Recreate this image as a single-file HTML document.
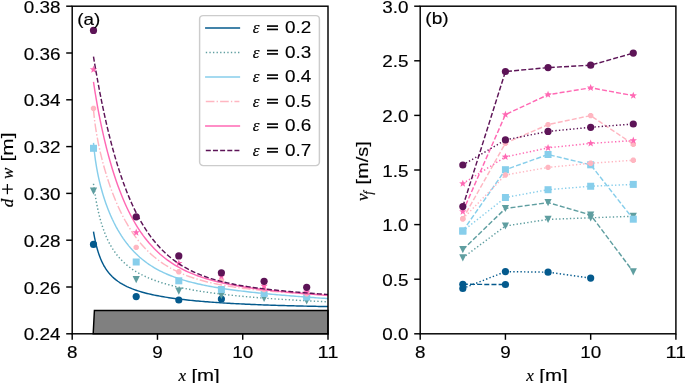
<!DOCTYPE html>
<html><head><meta charset="utf-8"><style>
html,body{margin:0;padding:0;background:#fff;overflow:hidden;}
#w{will-change:transform;width:685px;height:383px;background:#fff;}
svg{display:block;}
</style></head><body><div id="w">
<svg width="685" height="383" viewBox="0 0 685 383">
<rect width="685" height="383" fill="#fff"/>
<path d="M93.2,333.8L94.4,310.4L328.0,310.4L328.0,333.8Z" fill="#808080" stroke="#000" stroke-width="1.45"/>
<path d="M93.50,231.69L93.78,233.33L94.06,234.89L94.34,236.39L94.62,237.83L94.90,239.20L95.18,240.53L95.46,241.80L95.74,243.03L96.02,244.21L96.30,245.35L96.58,246.44L96.86,247.50L97.14,248.52L97.42,249.50L97.69,250.46L97.97,251.38L98.25,252.27L98.53,253.13L98.81,253.97L99.09,254.78L99.37,255.57L99.65,256.33L99.93,257.07L100.21,257.79L100.49,258.48L100.77,259.16L101.05,259.82L101.33,260.46L101.61,261.09L101.89,261.70L102.17,262.29L102.45,262.86L102.73,263.42L103.01,263.97L103.29,264.51L103.57,265.03L103.85,265.54L104.13,266.03L104.41,266.52L104.69,266.99L104.97,267.45L105.25,267.90L105.53,268.34L105.81,268.78L106.08,269.20L106.36,269.61L106.64,270.02L106.92,270.41L107.20,270.80L107.48,271.18L107.76,271.55L108.04,271.92L108.32,272.27L108.60,272.62L108.88,272.97L109.16,273.30L109.44,273.63L109.72,273.96L110.00,274.28L110.50,274.83L112.33,276.71L114.16,278.39L115.98,279.90L117.81,281.27L119.64,282.52L121.47,283.66L123.29,284.71L125.12,285.68L126.95,286.58L128.78,287.42L130.61,288.20L132.43,288.93L134.26,289.61L136.09,290.25L137.92,290.86L139.74,291.43L141.57,291.98L143.40,292.49L145.23,292.98L147.05,293.44L148.88,293.89L150.71,294.31L152.54,294.71L154.37,295.10L156.19,295.47L158.02,295.82L159.85,296.16L161.68,296.49L163.50,296.80L165.33,297.10L167.16,297.39L168.99,297.67L170.82,297.94L172.64,298.20L174.47,298.45L176.30,298.70L178.13,298.93L179.95,299.16L181.78,299.38L183.61,299.59L185.44,299.80L187.26,300.00L189.09,300.19L190.92,300.38L192.75,300.56L194.58,300.74L196.40,300.91L198.23,301.08L200.06,301.24L201.89,301.39L203.71,301.55L205.54,301.70L207.37,301.84L209.20,301.98L211.03,302.12L212.85,302.25L214.68,302.38L216.51,302.51L218.34,302.63L220.16,302.75L221.99,302.87L223.82,302.99L225.65,303.10L227.47,303.21L229.30,303.31L231.13,303.42L232.96,303.52L234.79,303.62L236.61,303.71L238.44,303.81L240.27,303.90L242.10,303.99L243.92,304.08L245.75,304.16L247.58,304.24L249.41,304.33L251.24,304.41L253.06,304.48L254.89,304.56L256.72,304.63L258.55,304.71L260.37,304.78L262.20,304.85L264.03,304.92L265.86,304.98L267.68,305.05L269.51,305.11L271.34,305.17L273.17,305.24L275.00,305.30L276.82,305.35L278.65,305.41L280.48,305.47L282.31,305.52L284.13,305.58L285.96,305.63L287.79,305.68L289.62,305.73L291.45,305.78L293.27,305.83L295.10,305.88L296.93,305.92L298.76,305.97L300.58,306.01L302.41,306.06L304.24,306.10L306.07,306.14L307.89,306.18L309.72,306.23L311.55,306.27L313.38,306.30L315.21,306.34L317.03,306.38L318.86,306.42L320.69,306.45L322.52,306.49L324.34,306.52L326.17,306.56L328.00,306.59" fill="none" stroke="#045a8d" stroke-width="1.45" stroke-linejoin="round" stroke-linecap="butt"/>
<circle cx="93.50" cy="244.40" r="3.6" fill="#045a8d"/>
<circle cx="136.20" cy="296.60" r="3.6" fill="#045a8d"/>
<circle cx="178.80" cy="300.00" r="3.6" fill="#045a8d"/>
<circle cx="221.40" cy="299.00" r="3.6" fill="#045a8d"/>
<path d="M93.50,183.76L93.78,185.84L94.06,187.84L94.34,189.77L94.62,191.64L94.90,193.44L95.18,195.18L95.46,196.87L95.74,198.51L96.02,200.09L96.30,201.62L96.58,203.11L96.86,204.56L97.14,205.96L97.42,207.32L97.69,208.64L97.97,209.93L98.25,211.18L98.53,212.40L98.81,213.58L99.09,214.74L99.37,215.86L99.65,216.96L99.93,218.03L100.21,219.07L100.49,220.09L100.77,221.08L101.05,222.05L101.33,223.00L101.61,223.93L101.89,224.83L102.17,225.71L102.45,226.58L102.73,227.42L103.01,228.25L103.29,229.06L103.57,229.85L103.85,230.63L104.13,231.39L104.41,232.13L104.69,232.86L104.97,233.58L105.25,234.28L105.53,234.96L105.81,235.64L106.08,236.30L106.36,236.95L106.64,237.59L106.92,238.21L107.20,238.82L107.48,239.43L107.76,240.02L108.04,240.60L108.32,241.17L108.60,241.73L108.88,242.28L109.16,242.82L109.44,243.36L109.72,243.88L110.00,244.40L110.50,245.30L112.33,248.38L114.16,251.17L115.98,253.70L117.81,256.02L119.64,258.15L121.47,260.11L123.29,261.92L125.12,263.60L126.95,265.17L128.78,266.63L130.61,268.00L132.43,269.29L134.26,270.49L136.09,271.63L137.92,272.71L139.74,273.72L141.57,274.69L143.40,275.60L145.23,276.47L147.05,277.29L148.88,278.08L150.71,278.83L152.54,279.55L154.37,280.24L156.19,280.90L158.02,281.53L159.85,282.13L161.68,282.71L163.50,283.27L165.33,283.81L167.16,284.33L168.99,284.82L170.82,285.30L172.64,285.77L174.47,286.22L176.30,286.65L178.13,287.07L179.95,287.48L181.78,287.87L183.61,288.25L185.44,288.62L187.26,288.97L189.09,289.32L190.92,289.66L192.75,289.99L194.58,290.30L196.40,290.61L198.23,290.91L200.06,291.21L201.89,291.49L203.71,291.77L205.54,292.04L207.37,292.30L209.20,292.56L211.03,292.81L212.85,293.06L214.68,293.30L216.51,293.53L218.34,293.76L220.16,293.98L221.99,294.20L223.82,294.41L225.65,294.62L227.47,294.82L229.30,295.02L231.13,295.21L232.96,295.40L234.79,295.59L236.61,295.77L238.44,295.95L240.27,296.13L242.10,296.30L243.92,296.47L245.75,296.63L247.58,296.80L249.41,296.96L251.24,297.11L253.06,297.27L254.89,297.42L256.72,297.56L258.55,297.71L260.37,297.85L262.20,297.99L264.03,298.13L265.86,298.26L267.68,298.40L269.51,298.53L271.34,298.65L273.17,298.78L275.00,298.90L276.82,299.03L278.65,299.15L280.48,299.26L282.31,299.38L284.13,299.49L285.96,299.61L287.79,299.72L289.62,299.83L291.45,299.93L293.27,300.04L295.10,300.14L296.93,300.25L298.76,300.35L300.58,300.45L302.41,300.55L304.24,300.64L306.07,300.74L307.89,300.83L309.72,300.93L311.55,301.02L313.38,301.11L315.21,301.20L317.03,301.28L318.86,301.37L320.69,301.46L322.52,301.54L324.34,301.62L326.17,301.71L328.00,301.79" fill="none" stroke="#5f9ea0" stroke-width="1.45" stroke-dasharray="1.35,2.23" stroke-linejoin="round" stroke-linecap="butt"/>
<path d="M89.90,187.60L97.10,187.60L93.50,194.80Z" fill="#5f9ea0"/>
<path d="M132.60,276.00L139.80,276.00L136.20,283.20Z" fill="#5f9ea0"/>
<path d="M175.20,287.60L182.40,287.60L178.80,294.80Z" fill="#5f9ea0"/>
<path d="M217.80,291.90L225.00,291.90L221.40,299.10Z" fill="#5f9ea0"/>
<path d="M260.50,294.90L267.70,294.90L264.10,302.10Z" fill="#5f9ea0"/>
<path d="M303.10,297.40L310.30,297.40L306.70,304.60Z" fill="#5f9ea0"/>
<path d="M93.50,142.86L93.78,146.05L94.06,148.93L94.34,151.54L94.62,153.96L94.90,156.21L95.18,158.31L95.46,160.30L95.74,162.18L96.02,163.98L96.30,165.69L96.58,167.33L96.86,168.91L97.14,170.44L97.42,171.91L97.69,173.33L97.97,174.71L98.25,176.05L98.53,177.35L98.81,178.62L99.09,179.86L99.37,181.06L99.65,182.24L99.93,183.39L100.21,184.52L100.49,185.62L100.77,186.70L101.05,187.76L101.33,188.79L101.61,189.81L101.89,190.81L102.17,191.79L102.45,192.76L102.73,193.70L103.01,194.64L103.29,195.55L103.57,196.45L103.85,197.34L104.13,198.22L104.41,199.08L104.69,199.93L104.97,200.76L105.25,201.59L105.53,202.40L105.81,203.20L106.08,203.99L106.36,204.77L106.64,205.54L106.92,206.29L107.20,207.04L107.48,207.78L107.76,208.51L108.04,209.23L108.32,209.94L108.60,210.64L108.88,211.34L109.16,212.02L109.44,212.70L109.72,213.37L110.00,214.03L110.50,215.20L112.33,219.25L114.16,223.03L115.98,226.55L117.81,229.85L119.64,232.94L121.47,235.85L123.29,238.58L125.12,241.15L126.95,243.57L128.78,245.86L130.61,248.02L132.43,250.07L134.26,252.00L136.09,253.83L137.92,255.57L139.74,257.22L141.57,258.78L143.40,260.26L145.23,261.68L147.05,263.02L148.88,264.29L150.71,265.51L152.54,266.67L154.37,267.77L156.19,268.82L158.02,269.83L159.85,270.79L161.68,271.70L163.50,272.58L165.33,273.42L167.16,274.22L168.99,274.99L170.82,275.73L172.64,276.44L174.47,277.11L176.30,277.76L178.13,278.39L179.95,278.99L181.78,279.57L183.61,280.13L185.44,280.66L187.26,281.18L189.09,281.68L190.92,282.16L192.75,282.62L194.58,283.07L196.40,283.51L198.23,283.93L200.06,284.33L201.89,284.73L203.71,285.11L205.54,285.48L207.37,285.84L209.20,286.18L211.03,286.52L212.85,286.85L214.68,287.17L216.51,287.48L218.34,287.78L220.16,288.08L221.99,288.37L223.82,288.65L225.65,288.92L227.47,289.19L229.30,289.45L231.13,289.70L232.96,289.95L234.79,290.20L236.61,290.44L238.44,290.67L240.27,290.90L242.10,291.12L243.92,291.34L245.75,291.56L247.58,291.77L249.41,291.98L251.24,292.18L253.06,292.38L254.89,292.58L256.72,292.77L258.55,292.96L260.37,293.15L262.20,293.33L264.03,293.51L265.86,293.69L267.68,293.87L269.51,294.04L271.34,294.21L273.17,294.38L275.00,294.54L276.82,294.71L278.65,294.87L280.48,295.03L282.31,295.18L284.13,295.34L285.96,295.49L287.79,295.64L289.62,295.79L291.45,295.94L293.27,296.09L295.10,296.23L296.93,296.37L298.76,296.51L300.58,296.65L302.41,296.79L304.24,296.93L306.07,297.06L307.89,297.20L309.72,297.33L311.55,297.46L313.38,297.59L315.21,297.72L317.03,297.85L318.86,297.97L320.69,298.10L322.52,298.22L324.34,298.34L326.17,298.46L328.00,298.58" fill="none" stroke="#87ceeb" stroke-width="1.45" stroke-linejoin="round" stroke-linecap="butt"/>
<rect x="90.00" y="144.80" width="7.00" height="7.00" fill="#87ceeb"/>
<rect x="132.70" y="258.50" width="7.00" height="7.00" fill="#87ceeb"/>
<rect x="175.30" y="277.30" width="7.00" height="7.00" fill="#87ceeb"/>
<rect x="217.90" y="286.00" width="7.00" height="7.00" fill="#87ceeb"/>
<rect x="260.60" y="290.00" width="7.00" height="7.00" fill="#87ceeb"/>
<rect x="303.20" y="293.50" width="7.00" height="7.00" fill="#87ceeb"/>
<path d="M93.50,109.28L93.78,112.59L94.06,115.48L94.34,118.09L94.62,120.47L94.90,122.69L95.18,124.77L95.46,126.74L95.74,128.61L96.02,130.40L96.30,132.12L96.58,133.78L96.86,135.39L97.14,136.95L97.42,138.46L97.69,139.94L97.97,141.37L98.25,142.78L98.53,144.15L98.81,145.49L99.09,146.81L99.37,148.10L99.65,149.37L99.93,150.61L100.21,151.84L100.49,153.04L100.77,154.23L101.05,155.39L101.33,156.54L101.61,157.67L101.89,158.79L102.17,159.89L102.45,160.98L102.73,162.05L103.01,163.10L103.29,164.15L103.57,165.18L103.85,166.20L104.13,167.20L104.41,168.20L104.69,169.18L104.97,170.15L105.25,171.11L105.53,172.06L105.81,173.00L106.08,173.93L106.36,174.85L106.64,175.75L106.92,176.65L107.20,177.54L107.48,178.43L107.76,179.30L108.04,180.16L108.32,181.02L108.60,181.86L108.88,182.70L109.16,183.53L109.44,184.35L109.72,185.16L110.00,185.97L110.50,187.39L112.33,192.39L114.16,197.11L115.98,201.56L117.81,205.77L119.64,209.75L121.47,213.52L123.29,217.10L125.12,220.50L126.95,223.72L128.78,226.79L130.61,229.70L132.43,232.47L134.26,235.11L136.09,237.62L137.92,240.00L139.74,242.28L141.57,244.44L143.40,246.51L145.23,248.48L147.05,250.35L148.88,252.14L150.71,253.85L152.54,255.48L154.37,257.04L156.19,258.52L158.02,259.94L159.85,261.29L161.68,262.59L163.50,263.83L165.33,265.01L167.16,266.14L168.99,267.22L170.82,268.26L172.64,269.25L174.47,270.20L176.30,271.10L178.13,271.97L179.95,272.81L181.78,273.61L183.61,274.37L185.44,275.11L187.26,275.81L189.09,276.49L190.92,277.14L192.75,277.76L194.58,278.36L196.40,278.93L198.23,279.49L200.06,280.02L201.89,280.53L203.71,281.02L205.54,281.50L207.37,281.96L209.20,282.40L211.03,282.82L212.85,283.23L214.68,283.62L216.51,284.00L218.34,284.37L220.16,284.73L221.99,285.07L223.82,285.40L225.65,285.72L227.47,286.03L229.30,286.33L231.13,286.62L232.96,286.90L234.79,287.17L236.61,287.44L238.44,287.70L240.27,287.94L242.10,288.19L243.92,288.42L245.75,288.65L247.58,288.87L249.41,289.09L251.24,289.30L253.06,289.50L254.89,289.70L256.72,289.89L258.55,290.08L260.37,290.27L262.20,290.45L264.03,290.62L265.86,290.79L267.68,290.96L269.51,291.12L271.34,291.28L273.17,291.44L275.00,291.59L276.82,291.74L278.65,291.89L280.48,292.03L282.31,292.17L284.13,292.31L285.96,292.45L287.79,292.58L289.62,292.71L291.45,292.84L293.27,292.97L295.10,293.09L296.93,293.21L298.76,293.33L300.58,293.45L302.41,293.56L304.24,293.68L306.07,293.79L307.89,293.90L309.72,294.01L311.55,294.12L313.38,294.22L315.21,294.33L317.03,294.43L318.86,294.53L320.69,294.63L322.52,294.73L324.34,294.83L326.17,294.92L328.00,295.02" fill="none" stroke="#ffb6c1" stroke-width="1.45" stroke-dasharray="8.64,2.16,1.35,2.16" stroke-linejoin="round" stroke-linecap="butt"/>
<polygon points="96.19,109.51 94.61,111.09 92.39,111.09 90.81,109.51 90.81,107.29 92.39,105.71 94.61,105.71 96.19,107.29" fill="#ffb6c1"/>
<polygon points="138.89,248.51 137.31,250.09 135.09,250.09 133.51,248.51 133.51,246.29 135.09,244.71 137.31,244.71 138.89,246.29" fill="#ffb6c1"/>
<polygon points="181.49,272.91 179.91,274.49 177.69,274.49 176.11,272.91 176.11,270.69 177.69,269.11 179.91,269.11 181.49,270.69" fill="#ffb6c1"/>
<polygon points="224.09,281.61 222.51,283.19 220.29,283.19 218.71,281.61 218.71,279.39 220.29,277.81 222.51,277.81 224.09,279.39" fill="#ffb6c1"/>
<polygon points="266.79,290.61 265.21,292.19 262.99,292.19 261.41,290.61 261.41,288.39 262.99,286.81 265.21,286.81 266.79,288.39" fill="#ffb6c1"/>
<polygon points="309.39,294.81 307.81,296.39 305.59,296.39 304.01,294.81 304.01,292.59 305.59,291.01 307.81,291.01 309.39,292.59" fill="#ffb6c1"/>
<path d="M93.50,81.97L93.78,83.85L94.06,85.69L94.34,87.51L94.62,89.30L94.90,91.06L95.18,92.79L95.46,94.50L95.74,96.18L96.02,97.84L96.30,99.48L96.58,101.09L96.86,102.69L97.14,104.26L97.42,105.81L97.69,107.35L97.97,108.86L98.25,110.36L98.53,111.84L98.81,113.30L99.09,114.75L99.37,116.18L99.65,117.59L99.93,118.99L100.21,120.37L100.49,121.74L100.77,123.09L101.05,124.43L101.33,125.76L101.61,127.07L101.89,128.37L102.17,129.65L102.45,130.92L102.73,132.18L103.01,133.43L103.29,134.66L103.57,135.88L103.85,137.09L104.13,138.29L104.41,139.48L104.69,140.65L104.97,141.81L105.25,142.97L105.53,144.11L105.81,145.24L106.08,146.36L106.36,147.47L106.64,148.57L106.92,149.66L107.20,150.74L107.48,151.81L107.76,152.87L108.04,153.92L108.32,154.97L108.60,156.00L108.88,157.02L109.16,158.04L109.44,159.04L109.72,160.04L110.00,161.02L110.50,162.77L112.33,168.92L114.16,174.73L115.98,180.23L117.81,185.43L119.64,190.37L121.47,195.04L123.29,199.48L125.12,203.69L126.95,207.69L128.78,211.48L130.61,215.09L132.43,218.51L134.26,221.77L136.09,224.87L137.92,227.82L139.74,230.62L141.57,233.29L143.40,235.83L145.23,238.25L147.05,240.55L148.88,242.75L150.71,244.84L152.54,246.84L154.37,248.74L156.19,250.56L158.02,252.29L159.85,253.94L161.68,255.52L163.50,257.03L165.33,258.47L167.16,259.85L168.99,261.16L170.82,262.42L172.64,263.62L174.47,264.77L176.30,265.88L178.13,266.93L179.95,267.94L181.78,268.91L183.61,269.84L185.44,270.73L187.26,271.58L189.09,272.40L190.92,273.19L192.75,273.94L194.58,274.67L196.40,275.36L198.23,276.03L200.06,276.68L201.89,277.30L203.71,277.89L205.54,278.47L207.37,279.02L209.20,279.56L211.03,280.07L212.85,280.57L214.68,281.05L216.51,281.51L218.34,281.96L220.16,282.39L221.99,282.81L223.82,283.22L225.65,283.61L227.47,283.99L229.30,284.36L231.13,284.71L232.96,285.06L234.79,285.39L236.61,285.72L238.44,286.04L240.27,286.35L242.10,286.64L243.92,286.94L245.75,287.22L247.58,287.49L249.41,287.76L251.24,288.03L253.06,288.28L254.89,288.53L256.72,288.77L258.55,289.01L260.37,289.24L262.20,289.47L264.03,289.69L265.86,289.91L267.68,290.12L269.51,290.33L271.34,290.53L273.17,290.73L275.00,290.93L276.82,291.12L278.65,291.31L280.48,291.49L282.31,291.68L284.13,291.85L285.96,292.03L287.79,292.20L289.62,292.37L291.45,292.54L293.27,292.70L295.10,292.86L296.93,293.02L298.76,293.18L300.58,293.33L302.41,293.48L304.24,293.63L306.07,293.78L307.89,293.93L309.72,294.07L311.55,294.21L313.38,294.35L315.21,294.49L317.03,294.63L318.86,294.76L320.69,294.90L322.52,295.03L324.34,295.16L326.17,295.29L328.00,295.42" fill="none" stroke="#ff69b4" stroke-width="1.45" stroke-linejoin="round" stroke-linecap="butt"/>
<polygon points="93.50,65.60 94.46,68.17 97.21,68.29 95.06,70.01 95.79,72.66 93.50,71.14 91.21,72.66 91.94,70.01 89.79,68.29 92.54,68.17" fill="#ff69b4"/>
<polygon points="136.20,228.60 137.16,231.17 139.91,231.29 137.76,233.01 138.49,235.66 136.20,234.14 133.91,235.66 134.64,233.01 132.49,231.29 135.24,231.17" fill="#ff69b4"/>
<polygon points="178.80,259.40 179.76,261.97 182.51,262.09 180.36,263.81 181.09,266.46 178.80,264.94 176.51,266.46 177.24,263.81 175.09,262.09 177.84,261.97" fill="#ff69b4"/>
<polygon points="221.40,272.40 222.36,274.97 225.11,275.09 222.96,276.81 223.69,279.46 221.40,277.94 219.11,279.46 219.84,276.81 217.69,275.09 220.44,274.97" fill="#ff69b4"/>
<polygon points="264.10,282.10 265.06,284.67 267.81,284.79 265.66,286.51 266.39,289.16 264.10,287.64 261.81,289.16 262.54,286.51 260.39,284.79 263.14,284.67" fill="#ff69b4"/>
<polygon points="306.70,288.00 307.66,290.57 310.41,290.69 308.26,292.41 308.99,295.06 306.70,293.54 304.41,295.06 305.14,292.41 302.99,290.69 305.74,290.57" fill="#ff69b4"/>
<path d="M93.50,56.62L93.78,58.33L94.06,60.02L94.34,61.71L94.62,63.37L94.90,65.03L95.18,66.68L95.46,68.31L95.74,69.93L96.02,71.54L96.30,73.13L96.58,74.71L96.86,76.29L97.14,77.85L97.42,79.40L97.69,80.93L97.97,82.46L98.25,83.97L98.53,85.48L98.81,86.97L99.09,88.45L99.37,89.92L99.65,91.38L99.93,92.82L100.21,94.26L100.49,95.69L100.77,97.10L101.05,98.51L101.33,99.90L101.61,101.29L101.89,102.66L102.17,104.02L102.45,105.38L102.73,106.72L103.01,108.05L103.29,109.38L103.57,110.69L103.85,112.00L104.13,113.29L104.41,114.58L104.69,115.85L104.97,117.12L105.25,118.37L105.53,119.62L105.81,120.86L106.08,122.08L106.36,123.30L106.64,124.51L106.92,125.72L107.20,126.91L107.48,128.09L107.76,129.27L108.04,130.43L108.32,131.59L108.60,132.74L108.88,133.88L109.16,135.01L109.44,136.13L109.72,137.25L110.00,138.35L110.50,140.31L112.33,147.25L114.16,153.86L115.98,160.16L117.81,166.15L119.64,171.87L121.47,177.31L123.29,182.50L125.12,187.44L126.95,192.15L128.78,196.63L130.61,200.91L132.43,204.98L134.26,208.86L136.09,212.56L137.92,216.09L139.74,219.45L141.57,222.66L143.40,225.72L145.23,228.63L147.05,231.41L148.88,234.06L150.71,236.59L152.54,239.00L154.37,241.30L156.19,243.49L158.02,245.58L159.85,247.58L161.68,249.49L163.50,251.31L165.33,253.05L167.16,254.70L168.99,256.29L170.82,257.80L172.64,259.25L174.47,260.63L176.30,261.95L178.13,263.21L179.95,264.41L181.78,265.57L183.61,266.67L185.44,267.72L187.26,268.73L189.09,269.70L190.92,270.62L192.75,271.51L194.58,272.35L196.40,273.17L198.23,273.94L200.06,274.69L201.89,275.40L203.71,276.09L205.54,276.75L207.37,277.38L209.20,277.99L211.03,278.57L212.85,279.13L214.68,279.67L216.51,280.18L218.34,280.68L220.16,281.16L221.99,281.62L223.82,282.06L225.65,282.49L227.47,282.90L229.30,283.30L231.13,283.69L232.96,284.06L234.79,284.42L236.61,284.76L238.44,285.10L240.27,285.42L242.10,285.73L243.92,286.04L245.75,286.33L247.58,286.62L249.41,286.89L251.24,287.16L253.06,287.42L254.89,287.68L256.72,287.92L258.55,288.16L260.37,288.40L262.20,288.63L264.03,288.85L265.86,289.07L267.68,289.28L269.51,289.48L271.34,289.69L273.17,289.88L275.00,290.08L276.82,290.27L278.65,290.45L280.48,290.63L282.31,290.81L284.13,290.99L285.96,291.16L287.79,291.33L289.62,291.49L291.45,291.66L293.27,291.82L295.10,291.97L296.93,292.13L298.76,292.28L300.58,292.44L302.41,292.58L304.24,292.73L306.07,292.88L307.89,293.02L309.72,293.16L311.55,293.30L313.38,293.44L315.21,293.58L317.03,293.72L318.86,293.85L320.69,293.99L322.52,294.12L324.34,294.25L326.17,294.38L328.00,294.51" fill="none" stroke="#5d1457" stroke-width="1.45" stroke-dasharray="5.00,2.16" stroke-linejoin="round" stroke-linecap="butt"/>
<circle cx="93.50" cy="30.40" r="3.6" fill="#5d1457"/>
<circle cx="136.20" cy="216.80" r="3.6" fill="#5d1457"/>
<circle cx="178.80" cy="255.90" r="3.6" fill="#5d1457"/>
<circle cx="221.40" cy="272.80" r="3.6" fill="#5d1457"/>
<circle cx="264.10" cy="281.30" r="3.6" fill="#5d1457"/>
<circle cx="306.70" cy="287.30" r="3.6" fill="#5d1457"/>
<path d="M462.82,284.30L505.43,284.50" fill="none" stroke="#045a8d" stroke-width="1.45" stroke-dasharray="5.00,2.16" stroke-linejoin="round" stroke-linecap="butt"/>
<circle cx="462.82" cy="284.30" r="3.6" fill="#045a8d"/>
<circle cx="505.43" cy="284.50" r="3.6" fill="#045a8d"/>
<path d="M462.82,288.50L505.43,271.60L548.05,272.20L590.67,278.10" fill="none" stroke="#045a8d" stroke-width="1.45" stroke-dasharray="1.35,2.23" stroke-linejoin="round" stroke-linecap="butt"/>
<circle cx="462.82" cy="288.50" r="3.6" fill="#045a8d"/>
<circle cx="505.43" cy="271.60" r="3.6" fill="#045a8d"/>
<circle cx="548.05" cy="272.20" r="3.6" fill="#045a8d"/>
<circle cx="590.67" cy="278.10" r="3.6" fill="#045a8d"/>
<path d="M462.82,249.70L505.43,208.50L548.05,202.60L590.67,215.00L633.28,271.80" fill="none" stroke="#5f9ea0" stroke-width="1.45" stroke-dasharray="5.00,2.16" stroke-linejoin="round" stroke-linecap="butt"/>
<path d="M459.22,246.10L466.42,246.10L462.82,253.30Z" fill="#5f9ea0"/>
<path d="M501.83,204.90L509.03,204.90L505.43,212.10Z" fill="#5f9ea0"/>
<path d="M544.45,199.00L551.65,199.00L548.05,206.20Z" fill="#5f9ea0"/>
<path d="M587.07,211.40L594.27,211.40L590.67,218.60Z" fill="#5f9ea0"/>
<path d="M629.68,268.20L636.88,268.20L633.28,275.40Z" fill="#5f9ea0"/>
<path d="M462.82,257.80L505.43,226.00L548.05,219.40L590.67,217.80L633.28,216.30" fill="none" stroke="#5f9ea0" stroke-width="1.45" stroke-dasharray="1.35,2.23" stroke-linejoin="round" stroke-linecap="butt"/>
<path d="M459.22,254.20L466.42,254.20L462.82,261.40Z" fill="#5f9ea0"/>
<path d="M501.83,222.40L509.03,222.40L505.43,229.60Z" fill="#5f9ea0"/>
<path d="M544.45,215.80L551.65,215.80L548.05,223.00Z" fill="#5f9ea0"/>
<path d="M587.07,214.20L594.27,214.20L590.67,221.40Z" fill="#5f9ea0"/>
<path d="M629.68,212.70L636.88,212.70L633.28,219.90Z" fill="#5f9ea0"/>
<path d="M462.82,231.00L505.43,169.70L548.05,154.50L590.67,164.80L633.28,219.20" fill="none" stroke="#87ceeb" stroke-width="1.45" stroke-dasharray="5.00,2.16" stroke-linejoin="round" stroke-linecap="butt"/>
<rect x="459.32" y="227.50" width="7.00" height="7.00" fill="#87ceeb"/>
<rect x="501.93" y="166.20" width="7.00" height="7.00" fill="#87ceeb"/>
<rect x="544.55" y="151.00" width="7.00" height="7.00" fill="#87ceeb"/>
<rect x="587.17" y="161.30" width="7.00" height="7.00" fill="#87ceeb"/>
<rect x="629.78" y="215.70" width="7.00" height="7.00" fill="#87ceeb"/>
<path d="M462.82,231.00L505.43,197.50L548.05,189.70L590.67,186.25L633.28,184.40" fill="none" stroke="#87ceeb" stroke-width="1.45" stroke-dasharray="1.35,2.23" stroke-linejoin="round" stroke-linecap="butt"/>
<rect x="459.32" y="227.50" width="7.00" height="7.00" fill="#87ceeb"/>
<rect x="501.93" y="194.00" width="7.00" height="7.00" fill="#87ceeb"/>
<rect x="544.55" y="186.20" width="7.00" height="7.00" fill="#87ceeb"/>
<rect x="587.17" y="182.75" width="7.00" height="7.00" fill="#87ceeb"/>
<rect x="629.78" y="180.90" width="7.00" height="7.00" fill="#87ceeb"/>
<path d="M462.82,218.80L505.43,143.20L548.05,124.60L590.67,115.60L633.28,144.20" fill="none" stroke="#ffb6c1" stroke-width="1.45" stroke-dasharray="5.00,2.16" stroke-linejoin="round" stroke-linecap="butt"/>
<polygon points="465.51,219.91 463.93,221.49 461.70,221.49 460.13,219.91 460.13,217.69 461.70,216.11 463.93,216.11 465.51,217.69" fill="#ffb6c1"/>
<polygon points="508.12,144.31 506.55,145.89 504.32,145.89 502.74,144.31 502.74,142.09 504.32,140.51 506.55,140.51 508.12,142.09" fill="#ffb6c1"/>
<polygon points="550.74,125.71 549.16,127.29 546.94,127.29 545.36,125.71 545.36,123.49 546.94,121.91 549.16,121.91 550.74,123.49" fill="#ffb6c1"/>
<polygon points="593.36,116.71 591.78,118.29 589.55,118.29 587.98,116.71 587.98,114.49 589.55,112.91 591.78,112.91 593.36,114.49" fill="#ffb6c1"/>
<polygon points="635.97,145.31 634.40,146.89 632.17,146.89 630.59,145.31 630.59,143.09 632.17,141.51 634.40,141.51 635.97,143.09" fill="#ffb6c1"/>
<path d="M462.82,218.80L505.43,175.00L548.05,167.40L590.67,163.30L633.28,160.20" fill="none" stroke="#ffb6c1" stroke-width="1.45" stroke-dasharray="1.35,2.23" stroke-linejoin="round" stroke-linecap="butt"/>
<polygon points="465.51,219.91 463.93,221.49 461.70,221.49 460.13,219.91 460.13,217.69 461.70,216.11 463.93,216.11 465.51,217.69" fill="#ffb6c1"/>
<polygon points="508.12,176.11 506.55,177.69 504.32,177.69 502.74,176.11 502.74,173.89 504.32,172.31 506.55,172.31 508.12,173.89" fill="#ffb6c1"/>
<polygon points="550.74,168.51 549.16,170.09 546.94,170.09 545.36,168.51 545.36,166.29 546.94,164.71 549.16,164.71 550.74,166.29" fill="#ffb6c1"/>
<polygon points="593.36,164.41 591.78,165.99 589.55,165.99 587.98,164.41 587.98,162.19 589.55,160.61 591.78,160.61 593.36,162.19" fill="#ffb6c1"/>
<polygon points="635.97,161.31 634.40,162.89 632.17,162.89 630.59,161.31 630.59,159.09 632.17,157.51 634.40,157.51 635.97,159.09" fill="#ffb6c1"/>
<path d="M462.82,211.60L505.43,114.60L548.05,94.70L590.67,87.80L633.28,95.60" fill="none" stroke="#ff69b4" stroke-width="1.45" stroke-dasharray="5.00,2.16" stroke-linejoin="round" stroke-linecap="butt"/>
<polygon points="462.82,207.70 463.78,210.27 466.53,210.39 464.37,212.11 465.11,214.76 462.82,213.24 460.52,214.76 461.26,212.11 459.11,210.39 461.85,210.27" fill="#ff69b4"/>
<polygon points="505.43,110.70 506.40,113.27 509.14,113.39 506.99,115.11 507.73,117.76 505.43,116.24 503.14,117.76 503.88,115.11 501.72,113.39 504.47,113.27" fill="#ff69b4"/>
<polygon points="548.05,90.80 549.01,93.37 551.76,93.49 549.61,95.21 550.34,97.86 548.05,96.34 545.76,97.86 546.49,95.21 544.34,93.49 547.09,93.37" fill="#ff69b4"/>
<polygon points="590.67,83.90 591.63,86.47 594.38,86.59 592.22,88.31 592.96,90.96 590.67,89.44 588.37,90.96 589.11,88.31 586.96,86.59 589.70,86.47" fill="#ff69b4"/>
<polygon points="633.28,91.70 634.25,94.27 636.99,94.39 634.84,96.11 635.58,98.76 633.28,97.24 630.99,98.76 631.73,96.11 629.57,94.39 632.32,94.27" fill="#ff69b4"/>
<path d="M462.82,183.60L505.43,156.90L548.05,147.80L590.67,143.40L633.28,140.50" fill="none" stroke="#ff69b4" stroke-width="1.45" stroke-dasharray="1.35,2.23" stroke-linejoin="round" stroke-linecap="butt"/>
<polygon points="462.82,179.70 463.78,182.27 466.53,182.39 464.37,184.11 465.11,186.76 462.82,185.24 460.52,186.76 461.26,184.11 459.11,182.39 461.85,182.27" fill="#ff69b4"/>
<polygon points="505.43,153.00 506.40,155.57 509.14,155.69 506.99,157.41 507.73,160.06 505.43,158.54 503.14,160.06 503.88,157.41 501.72,155.69 504.47,155.57" fill="#ff69b4"/>
<polygon points="548.05,143.90 549.01,146.47 551.76,146.59 549.61,148.31 550.34,150.96 548.05,149.44 545.76,150.96 546.49,148.31 544.34,146.59 547.09,146.47" fill="#ff69b4"/>
<polygon points="590.67,139.50 591.63,142.07 594.38,142.19 592.22,143.91 592.96,146.56 590.67,145.04 588.37,146.56 589.11,143.91 586.96,142.19 589.70,142.07" fill="#ff69b4"/>
<polygon points="633.28,136.60 634.25,139.17 636.99,139.29 634.84,141.01 635.58,143.66 633.28,142.14 630.99,143.66 631.73,141.01 629.57,139.29 632.32,139.17" fill="#ff69b4"/>
<path d="M462.82,206.60L505.43,71.50L548.05,67.60L590.67,65.20L633.28,53.10" fill="none" stroke="#5d1457" stroke-width="1.45" stroke-dasharray="5.00,2.16" stroke-linejoin="round" stroke-linecap="butt"/>
<circle cx="462.82" cy="206.60" r="3.6" fill="#5d1457"/>
<circle cx="505.43" cy="71.50" r="3.6" fill="#5d1457"/>
<circle cx="548.05" cy="67.60" r="3.6" fill="#5d1457"/>
<circle cx="590.67" cy="65.20" r="3.6" fill="#5d1457"/>
<circle cx="633.28" cy="53.10" r="3.6" fill="#5d1457"/>
<path d="M462.82,165.00L505.43,139.90L548.05,131.40L590.67,127.30L633.28,124.00" fill="none" stroke="#5d1457" stroke-width="1.45" stroke-dasharray="1.35,2.23" stroke-linejoin="round" stroke-linecap="butt"/>
<circle cx="462.82" cy="165.00" r="3.6" fill="#5d1457"/>
<circle cx="505.43" cy="139.90" r="3.6" fill="#5d1457"/>
<circle cx="548.05" cy="131.40" r="3.6" fill="#5d1457"/>
<circle cx="590.67" cy="127.30" r="3.6" fill="#5d1457"/>
<circle cx="633.28" cy="124.00" r="3.6" fill="#5d1457"/>
<rect x="72.2" y="6.2" width="255.80" height="327.60" fill="none" stroke="#000" stroke-width="1.45"/>
<rect x="420.2" y="6.2" width="255.70" height="327.60" fill="none" stroke="#000" stroke-width="1.45"/>
<line x1="72.20" y1="333.8" x2="72.20" y2="339.8" stroke="#000" stroke-width="1.45"/>
<text x="72.20" y="358.00" font-size="16.5" text-anchor="middle" font-family='"Liberation Sans", sans-serif' textLength="10.50" lengthAdjust="spacingAndGlyphs" stroke="#000" stroke-width="0.15">8</text>
<line x1="157.47" y1="333.8" x2="157.47" y2="339.8" stroke="#000" stroke-width="1.45"/>
<text x="157.47" y="358.00" font-size="16.5" text-anchor="middle" font-family='"Liberation Sans", sans-serif' textLength="10.50" lengthAdjust="spacingAndGlyphs" stroke="#000" stroke-width="0.15">9</text>
<line x1="242.73" y1="333.8" x2="242.73" y2="339.8" stroke="#000" stroke-width="1.45"/>
<text x="242.73" y="358.00" font-size="16.5" text-anchor="middle" font-family='"Liberation Sans", sans-serif' textLength="20.99" lengthAdjust="spacingAndGlyphs" stroke="#000" stroke-width="0.15">10</text>
<line x1="328.00" y1="333.8" x2="328.00" y2="339.8" stroke="#000" stroke-width="1.45"/>
<text x="328.00" y="358.00" font-size="16.5" text-anchor="middle" font-family='"Liberation Sans", sans-serif' textLength="20.99" lengthAdjust="spacingAndGlyphs" stroke="#000" stroke-width="0.15">11</text>
<line x1="420.20" y1="333.8" x2="420.20" y2="339.8" stroke="#000" stroke-width="1.45"/>
<text x="420.20" y="358.00" font-size="16.5" text-anchor="middle" font-family='"Liberation Sans", sans-serif' textLength="10.50" lengthAdjust="spacingAndGlyphs" stroke="#000" stroke-width="0.15">8</text>
<line x1="505.43" y1="333.8" x2="505.43" y2="339.8" stroke="#000" stroke-width="1.45"/>
<text x="505.43" y="358.00" font-size="16.5" text-anchor="middle" font-family='"Liberation Sans", sans-serif' textLength="10.50" lengthAdjust="spacingAndGlyphs" stroke="#000" stroke-width="0.15">9</text>
<line x1="590.67" y1="333.8" x2="590.67" y2="339.8" stroke="#000" stroke-width="1.45"/>
<text x="590.67" y="358.00" font-size="16.5" text-anchor="middle" font-family='"Liberation Sans", sans-serif' textLength="20.99" lengthAdjust="spacingAndGlyphs" stroke="#000" stroke-width="0.15">10</text>
<line x1="675.90" y1="333.8" x2="675.90" y2="339.8" stroke="#000" stroke-width="1.45"/>
<text x="675.90" y="358.00" font-size="16.5" text-anchor="middle" font-family='"Liberation Sans", sans-serif' textLength="20.99" lengthAdjust="spacingAndGlyphs" stroke="#000" stroke-width="0.15">11</text>
<line x1="66.2" y1="333.80" x2="72.2" y2="333.80" stroke="#000" stroke-width="1.45"/>
<text x="60.40" y="340.40" font-size="16.5" text-anchor="end" font-family='"Liberation Sans", sans-serif' textLength="36.74" lengthAdjust="spacingAndGlyphs" stroke="#000" stroke-width="0.15">0.24</text>
<line x1="66.2" y1="287.00" x2="72.2" y2="287.00" stroke="#000" stroke-width="1.45"/>
<text x="60.40" y="293.60" font-size="16.5" text-anchor="end" font-family='"Liberation Sans", sans-serif' textLength="36.74" lengthAdjust="spacingAndGlyphs" stroke="#000" stroke-width="0.15">0.26</text>
<line x1="66.2" y1="240.20" x2="72.2" y2="240.20" stroke="#000" stroke-width="1.45"/>
<text x="60.40" y="246.80" font-size="16.5" text-anchor="end" font-family='"Liberation Sans", sans-serif' textLength="36.74" lengthAdjust="spacingAndGlyphs" stroke="#000" stroke-width="0.15">0.28</text>
<line x1="66.2" y1="193.40" x2="72.2" y2="193.40" stroke="#000" stroke-width="1.45"/>
<text x="60.40" y="200.00" font-size="16.5" text-anchor="end" font-family='"Liberation Sans", sans-serif' textLength="36.74" lengthAdjust="spacingAndGlyphs" stroke="#000" stroke-width="0.15">0.30</text>
<line x1="66.2" y1="146.60" x2="72.2" y2="146.60" stroke="#000" stroke-width="1.45"/>
<text x="60.40" y="153.20" font-size="16.5" text-anchor="end" font-family='"Liberation Sans", sans-serif' textLength="36.74" lengthAdjust="spacingAndGlyphs" stroke="#000" stroke-width="0.15">0.32</text>
<line x1="66.2" y1="99.80" x2="72.2" y2="99.80" stroke="#000" stroke-width="1.45"/>
<text x="60.40" y="106.40" font-size="16.5" text-anchor="end" font-family='"Liberation Sans", sans-serif' textLength="36.74" lengthAdjust="spacingAndGlyphs" stroke="#000" stroke-width="0.15">0.34</text>
<line x1="66.2" y1="53.00" x2="72.2" y2="53.00" stroke="#000" stroke-width="1.45"/>
<text x="60.40" y="59.60" font-size="16.5" text-anchor="end" font-family='"Liberation Sans", sans-serif' textLength="36.74" lengthAdjust="spacingAndGlyphs" stroke="#000" stroke-width="0.15">0.36</text>
<line x1="66.2" y1="6.20" x2="72.2" y2="6.20" stroke="#000" stroke-width="1.45"/>
<text x="60.40" y="12.80" font-size="16.5" text-anchor="end" font-family='"Liberation Sans", sans-serif' textLength="36.74" lengthAdjust="spacingAndGlyphs" stroke="#000" stroke-width="0.15">0.38</text>
<line x1="414.2" y1="333.80" x2="420.2" y2="333.80" stroke="#000" stroke-width="1.45"/>
<text x="408.40" y="340.40" font-size="16.5" text-anchor="end" font-family='"Liberation Sans", sans-serif' textLength="26.24" lengthAdjust="spacingAndGlyphs" stroke="#000" stroke-width="0.15">0.0</text>
<line x1="414.2" y1="279.20" x2="420.2" y2="279.20" stroke="#000" stroke-width="1.45"/>
<text x="408.40" y="285.80" font-size="16.5" text-anchor="end" font-family='"Liberation Sans", sans-serif' textLength="26.24" lengthAdjust="spacingAndGlyphs" stroke="#000" stroke-width="0.15">0.5</text>
<line x1="414.2" y1="224.60" x2="420.2" y2="224.60" stroke="#000" stroke-width="1.45"/>
<text x="408.40" y="231.20" font-size="16.5" text-anchor="end" font-family='"Liberation Sans", sans-serif' textLength="26.24" lengthAdjust="spacingAndGlyphs" stroke="#000" stroke-width="0.15">1.0</text>
<line x1="414.2" y1="170.00" x2="420.2" y2="170.00" stroke="#000" stroke-width="1.45"/>
<text x="408.40" y="176.60" font-size="16.5" text-anchor="end" font-family='"Liberation Sans", sans-serif' textLength="26.24" lengthAdjust="spacingAndGlyphs" stroke="#000" stroke-width="0.15">1.5</text>
<line x1="414.2" y1="115.40" x2="420.2" y2="115.40" stroke="#000" stroke-width="1.45"/>
<text x="408.40" y="122.00" font-size="16.5" text-anchor="end" font-family='"Liberation Sans", sans-serif' textLength="26.24" lengthAdjust="spacingAndGlyphs" stroke="#000" stroke-width="0.15">2.0</text>
<line x1="414.2" y1="60.80" x2="420.2" y2="60.80" stroke="#000" stroke-width="1.45"/>
<text x="408.40" y="67.40" font-size="16.5" text-anchor="end" font-family='"Liberation Sans", sans-serif' textLength="26.24" lengthAdjust="spacingAndGlyphs" stroke="#000" stroke-width="0.15">2.5</text>
<line x1="414.2" y1="6.20" x2="420.2" y2="6.20" stroke="#000" stroke-width="1.45"/>
<text x="408.40" y="12.80" font-size="16.5" text-anchor="end" font-family='"Liberation Sans", sans-serif' textLength="26.24" lengthAdjust="spacingAndGlyphs" stroke="#000" stroke-width="0.15">3.0</text>
<text x="77.30" y="25.20" font-size="16.5" text-anchor="start" font-family='"Liberation Sans", sans-serif' textLength="22.98" lengthAdjust="spacingAndGlyphs" stroke="#000" stroke-width="0.15">(a)</text>
<text x="425.30" y="24.00" font-size="16.5" text-anchor="start" font-family='"Liberation Sans", sans-serif' textLength="23.35" lengthAdjust="spacingAndGlyphs" stroke="#000" stroke-width="0.15">(b)</text>
<text x="178.40" y="380.50" font-size="17" font-style="italic" font-family='"Liberation Serif", serif' stroke="#000" stroke-width="0.2">x</text>
<text x="191.40" y="380.50" font-size="17" text-anchor="start" font-family='"Liberation Sans", sans-serif' textLength="28.37" lengthAdjust="spacingAndGlyphs" stroke="#000" stroke-width="0.15">[m]</text>
<text x="526.30" y="380.50" font-size="17" font-style="italic" font-family='"Liberation Serif", serif' stroke="#000" stroke-width="0.2">x</text>
<text x="539.30" y="380.50" font-size="17" text-anchor="start" font-family='"Liberation Sans", sans-serif' textLength="28.37" lengthAdjust="spacingAndGlyphs" stroke="#000" stroke-width="0.15">[m]</text>
<g transform="translate(12.90,207.20) rotate(-90)"><text x="0.00" y="0.00" font-size="17" font-style="italic" font-family='"Liberation Serif", serif' stroke="#000" stroke-width="0.2">d</text></g>
<path d="M7.4,184.0V194.3M2.1,189.1H12.8" stroke="#000" stroke-width="1.25" fill="none"/>
<g transform="translate(12.90,179.00) rotate(-90)"><text x="0.00" y="0.00" font-size="17" font-style="italic" font-family='"Liberation Serif", serif' stroke="#000" stroke-width="0.2">w</text></g>
<g transform="translate(12.90,161.50) rotate(-90)"><text x="0.00" y="0.00" font-size="17" font-family='"Liberation Sans", sans-serif' textLength="28.95" lengthAdjust="spacingAndGlyphs" stroke="#000" stroke-width="0.15">[m]</text></g>
<g transform="translate(368.40,200.90) rotate(-90)"><text x="0.00" y="0.00" font-size="17" font-style="italic" font-family='"Liberation Serif", serif' stroke="#000" stroke-width="0.2">v</text></g>
<g transform="translate(371.80,194.60) rotate(-90)"><text x="0.00" y="0.00" font-size="11.5" font-style="italic" font-family='"Liberation Serif", serif' stroke="#000" stroke-width="0.2">f</text></g>
<g transform="translate(368.40,184.40) rotate(-90)"><text x="0.00" y="0.00" font-size="17" font-family='"Liberation Sans", sans-serif' textLength="43.10" lengthAdjust="spacingAndGlyphs" stroke="#000" stroke-width="0.15">[m/s]</text></g>
<rect x="199.6" y="15.6" width="119.8" height="150.0" rx="3.5" ry="3.5" fill="#fff" fill-opacity="0.8" stroke="#cccccc" stroke-width="1.45"/>
<path d="M205.80,28.00L239.40,28.00" fill="none" stroke="#045a8d" stroke-width="1.45" stroke-linejoin="round" stroke-linecap="square"/>
<text x="252.80" y="33.20" font-size="17" font-style="italic" font-family='"Liberation Serif", serif' stroke="#000" stroke-width="0.2">ε</text>
<rect x="267.0" y="25.25" width="11.0" height="1.65" fill="#000"/><rect x="267.0" y="28.60" width="11.0" height="1.65" fill="#000"/>
<text x="285.00" y="33.20" font-size="16.5" text-anchor="start" font-family='"Liberation Sans", sans-serif' textLength="26.24" lengthAdjust="spacingAndGlyphs" stroke="#000" stroke-width="0.15">0.2</text>
<path d="M205.80,52.50L239.40,52.50" fill="none" stroke="#5f9ea0" stroke-width="1.45" stroke-dasharray="1.35,2.23" stroke-linejoin="round" stroke-linecap="butt"/>
<text x="252.80" y="57.70" font-size="17" font-style="italic" font-family='"Liberation Serif", serif' stroke="#000" stroke-width="0.2">ε</text>
<rect x="267.0" y="49.75" width="11.0" height="1.65" fill="#000"/><rect x="267.0" y="53.10" width="11.0" height="1.65" fill="#000"/>
<text x="285.00" y="57.70" font-size="16.5" text-anchor="start" font-family='"Liberation Sans", sans-serif' textLength="26.24" lengthAdjust="spacingAndGlyphs" stroke="#000" stroke-width="0.15">0.3</text>
<path d="M205.80,77.00L239.40,77.00" fill="none" stroke="#87ceeb" stroke-width="1.45" stroke-linejoin="round" stroke-linecap="square"/>
<text x="252.80" y="82.20" font-size="17" font-style="italic" font-family='"Liberation Serif", serif' stroke="#000" stroke-width="0.2">ε</text>
<rect x="267.0" y="74.25" width="11.0" height="1.65" fill="#000"/><rect x="267.0" y="77.60" width="11.0" height="1.65" fill="#000"/>
<text x="285.00" y="82.20" font-size="16.5" text-anchor="start" font-family='"Liberation Sans", sans-serif' textLength="26.24" lengthAdjust="spacingAndGlyphs" stroke="#000" stroke-width="0.15">0.4</text>
<path d="M205.80,101.50L239.40,101.50" fill="none" stroke="#ffb6c1" stroke-width="1.45" stroke-dasharray="8.64,2.16,1.35,2.16" stroke-linejoin="round" stroke-linecap="butt"/>
<text x="252.80" y="106.70" font-size="17" font-style="italic" font-family='"Liberation Serif", serif' stroke="#000" stroke-width="0.2">ε</text>
<rect x="267.0" y="98.75" width="11.0" height="1.65" fill="#000"/><rect x="267.0" y="102.10" width="11.0" height="1.65" fill="#000"/>
<text x="285.00" y="106.70" font-size="16.5" text-anchor="start" font-family='"Liberation Sans", sans-serif' textLength="26.24" lengthAdjust="spacingAndGlyphs" stroke="#000" stroke-width="0.15">0.5</text>
<path d="M205.80,126.00L239.40,126.00" fill="none" stroke="#ff69b4" stroke-width="1.45" stroke-linejoin="round" stroke-linecap="square"/>
<text x="252.80" y="131.20" font-size="17" font-style="italic" font-family='"Liberation Serif", serif' stroke="#000" stroke-width="0.2">ε</text>
<rect x="267.0" y="123.25" width="11.0" height="1.65" fill="#000"/><rect x="267.0" y="126.60" width="11.0" height="1.65" fill="#000"/>
<text x="285.00" y="131.20" font-size="16.5" text-anchor="start" font-family='"Liberation Sans", sans-serif' textLength="26.24" lengthAdjust="spacingAndGlyphs" stroke="#000" stroke-width="0.15">0.6</text>
<path d="M205.80,150.50L239.40,150.50" fill="none" stroke="#5d1457" stroke-width="1.45" stroke-dasharray="5.00,2.16" stroke-linejoin="round" stroke-linecap="butt"/>
<text x="252.80" y="155.70" font-size="17" font-style="italic" font-family='"Liberation Serif", serif' stroke="#000" stroke-width="0.2">ε</text>
<rect x="267.0" y="147.75" width="11.0" height="1.65" fill="#000"/><rect x="267.0" y="151.10" width="11.0" height="1.65" fill="#000"/>
<text x="285.00" y="155.70" font-size="16.5" text-anchor="start" font-family='"Liberation Sans", sans-serif' textLength="26.24" lengthAdjust="spacingAndGlyphs" stroke="#000" stroke-width="0.15">0.7</text>
</svg></div>
</body></html>
